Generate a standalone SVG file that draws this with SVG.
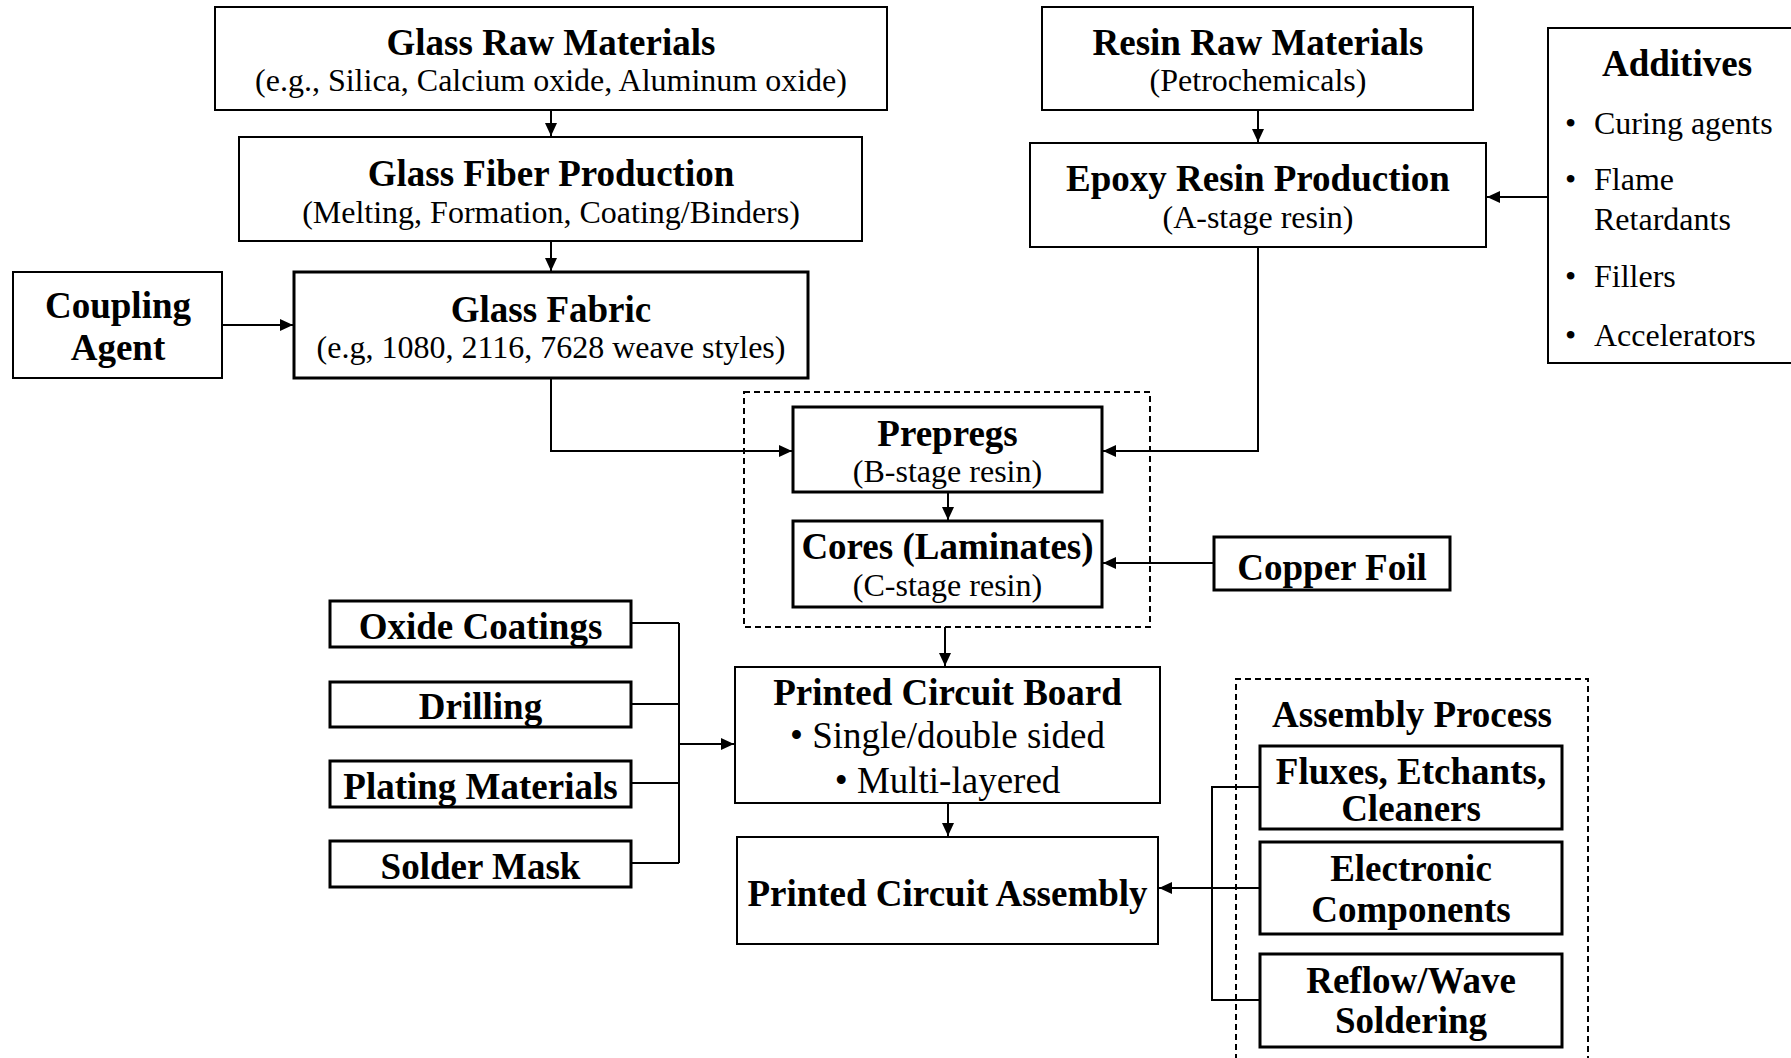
<svg xmlns="http://www.w3.org/2000/svg" width="1791" height="1058" viewBox="0 0 1791 1058">
<style>
.box{fill:#fff;stroke:#000;stroke-width:2}
.thick{stroke-width:3}
.dash{fill:none;stroke:#000;stroke-width:2;stroke-dasharray:6,4}
.t{font-family:"Liberation Serif","Times New Roman",serif;font-weight:bold;font-size:37px;fill:#000;text-anchor:middle}
.s{font-family:"Liberation Serif","Times New Roman",serif;font-size:32px;fill:#000;text-anchor:middle}
.b{font-family:"Liberation Serif","Times New Roman",serif;font-size:32px;fill:#000}
.pb{font-family:"Liberation Serif","Times New Roman",serif;font-size:37px;fill:#000;text-anchor:middle}
.c{fill:none;stroke:#000;stroke-width:2}
</style>
<defs>
<marker id="ah" markerUnits="userSpaceOnUse" markerWidth="14" markerHeight="12" refX="13" refY="6" orient="auto">
<path d="M0,0 L13,6 L0,12 z" fill="#000"/>
</marker>
</defs>
<rect width="1791" height="1058" fill="#fff"/>

<g id="connectors">
<path class="c" d="M551,110 V136" marker-end="url(#ah)"/>
<path class="c" d="M551,241 V271" marker-end="url(#ah)"/>
<path class="c" d="M222,325 H293" marker-end="url(#ah)"/>
<path class="c" d="M1258,110 V142" marker-end="url(#ah)"/>
<path class="c" d="M1548,197 H1487" marker-end="url(#ah)"/>
<path class="c" d="M551,378 V451 H792" marker-end="url(#ah)"/>
<path class="c" d="M1258,247 V451 H1103" marker-end="url(#ah)"/>
<path class="c" d="M948,492 V520" marker-end="url(#ah)"/>
<path class="c" d="M1214,563 H1103" marker-end="url(#ah)"/>
<path class="c" d="M945,627 V666" marker-end="url(#ah)"/>
<path class="c" d="M631,623 H679 M631,704 H679 M631,783 H679 M631,863 H679 M679,623 V863"/>
<path class="c" d="M679,744 H734" marker-end="url(#ah)"/>
<path class="c" d="M948,803 V836" marker-end="url(#ah)"/>
<path class="c" d="M1260,787 H1212 V1000 H1260"/>
<path class="c" d="M1260,888 H1159" marker-end="url(#ah)"/>
</g>

<g id="group-laminate">
<rect class="dash" x="744" y="392" width="406" height="235"/>
</g>
<g id="group-assembly">
<path class="dash" d="M1236,1070 V679 H1588 V1070"/>
<text class="t" x="1412" y="727">Assembly Process</text>
</g>

<g id="glass-raw">
<rect class="box" x="215" y="7" width="672" height="103"/>
<text class="t" x="551" y="55">Glass Raw Materials</text>
<text class="s" x="551" y="91">(e.g., Silica, Calcium oxide, Aluminum oxide)</text>
</g>
<g id="glass-fiber">
<rect class="box" x="239" y="137" width="623" height="104"/>
<text class="t" x="551" y="186">Glass Fiber Production</text>
<text class="s" x="551" y="223">(Melting, Formation, Coating/Binders)</text>
</g>
<g id="glass-fabric">
<rect class="box thick" x="294" y="272" width="514" height="106"/>
<text class="t" x="551" y="322">Glass Fabric</text>
<text class="s" x="551" y="358">(e.g, 1080, 2116, 7628 weave styles)</text>
</g>
<g id="coupling-agent">
<rect class="box" x="13" y="272" width="209" height="106"/>
<text class="t" x="118" y="318">Coupling</text>
<text class="t" x="118" y="360">Agent</text>
</g>
<g id="resin-raw">
<rect class="box" x="1042" y="7" width="431" height="103"/>
<text class="t" x="1258" y="55">Resin Raw Materials</text>
<text class="s" x="1258" y="91">(Petrochemicals)</text>
</g>
<g id="epoxy">
<rect class="box" x="1030" y="143" width="456" height="104"/>
<text class="t" x="1258" y="191">Epoxy Resin Production</text>
<text class="s" x="1258" y="228">(A-stage resin)</text>
</g>
<g id="additives">
<rect class="box" x="1548" y="28" width="260" height="335"/>
<text class="t" x="1677" y="76">Additives</text>
<text class="b" x="1565" y="134">•</text><text class="b" x="1594" y="134">Curing agents</text>
<text class="b" x="1565" y="190">•</text><text class="b" x="1594" y="190">Flame</text>
<text class="b" x="1594" y="230">Retardants</text>
<text class="b" x="1565" y="287">•</text><text class="b" x="1594" y="287">Fillers</text>
<text class="b" x="1565" y="346">•</text><text class="b" x="1594" y="346">Accelerators</text>
</g>
<g id="prepregs">
<rect class="box thick" x="793" y="407" width="309" height="85"/>
<text class="t" x="947.5" y="446">Prepregs</text>
<text class="s" x="947.5" y="482">(B-stage resin)</text>
</g>
<g id="cores">
<rect class="box thick" x="793" y="521" width="309" height="86"/>
<text class="t" x="947.5" y="559">Cores (Laminates)</text>
<text class="s" x="947.5" y="596">(C-stage resin)</text>
</g>
<g id="copper-foil">
<rect class="box thick" x="1214" y="537" width="236" height="53"/>
<text class="t" x="1332" y="580">Copper Foil</text>
</g>
<g id="oxide-coatings">
<rect class="box thick" x="330" y="601" width="301" height="46"/>
<text class="t" x="480.5" y="639">Oxide Coatings</text>
</g>
<g id="drilling">
<rect class="box thick" x="330" y="682" width="301" height="45"/>
<text class="t" x="480.5" y="719">Drilling</text>
</g>
<g id="plating">
<rect class="box thick" x="330" y="761" width="301" height="46"/>
<text class="t" x="480.5" y="799">Plating Materials</text>
</g>
<g id="solder-mask">
<rect class="box thick" x="330" y="841" width="301" height="46"/>
<text class="t" x="480.5" y="879">Solder Mask</text>
</g>
<g id="pcb">
<rect class="box" x="735" y="667" width="425" height="136"/>
<text class="t" x="947.5" y="705">Printed Circuit Board</text>
<text class="pb" x="947.5" y="748">• Single/double sided</text>
<text class="pb" x="947.5" y="793">• Multi-layered</text>
</g>
<g id="pca">
<rect class="box" x="737" y="837" width="421" height="107"/>
<text class="t" x="947.5" y="906">Printed Circuit Assembly</text>
</g>
<g id="fluxes">
<rect class="box thick" x="1260" y="746" width="302" height="83"/>
<text class="t" x="1411" y="784">Fluxes, Etchants,</text>
<text class="t" x="1411" y="821">Cleaners</text>
</g>
<g id="electronic">
<rect class="box thick" x="1260" y="842" width="302" height="92"/>
<text class="t" x="1411" y="881">Electronic</text>
<text class="t" x="1411" y="922">Components</text>
</g>
<g id="reflow">
<rect class="box thick" x="1260" y="954" width="302" height="93"/>
<text class="t" x="1411" y="993">Reflow/Wave</text>
<text class="t" x="1411" y="1033">Soldering</text>
</g>
</svg>
